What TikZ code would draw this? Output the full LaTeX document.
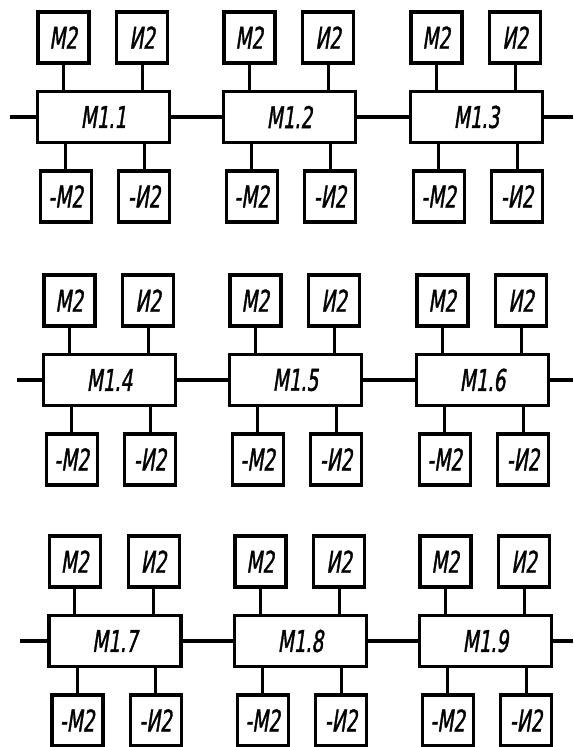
\documentclass[tikz,border=0pt]{standalone}
\usepackage{fontspec}
\setmainfont{DejaVu Sans}[FakeStretch=0.62,FakeSlant=0.15,FakeBold=1.2]
\usetikzlibrary{positioning}
\tikzset{
  modbox/.style={draw, line width=3.4pt, minimum width=132pt, minimum height=51pt, inner sep=0pt, font=\fontsize{30}{32}\selectfont},
  subbox/.style={draw, line width=3.4pt, minimum width=51pt, minimum height=51pt, inner sep=0pt, font=\fontsize{30}{32}\selectfont},
  wire/.style={line width=3.2pt}
}
\begin{document}
\begin{tikzpicture}[x=1pt,y=-1pt]
  \useasboundingbox (0,0) rectangle (573,747);

  % Modules with their four sub-blocks
  \foreach \n/\x/\y in {1/103.5/117, 2/289.5/117, 3/476.5/117,
                        4/109.5/380, 5/295.5/380, 6/482.5/380,
                        7/115/641, 8/300.5/641, 9/485.5/641} {
    \node[modbox] (m\n) at (\x,\y) {М1.\n};
    \node[subbox, above=25pt of m\n.north west, xshift=27.5pt] (tm\n) {М2};
    \node[subbox, above=25pt of m\n.north east, xshift=-29pt] (ti\n) {И2};
    \node[subbox, below=25pt of m\n.south west, xshift=30pt] (bm\n) {-М2};
    \node[subbox, below=25pt of m\n.south east, xshift=-27pt] (bi\n) {-И2};
    \draw[wire] (tm\n) -- (tm\n |- m\n.north);
    \draw[wire] (ti\n) -- (ti\n |- m\n.north);
    \draw[wire] (bm\n) -- (bm\n |- m\n.south);
    \draw[wire] (bi\n) -- (bi\n |- m\n.south);
  }

  % Row links
  \coordinate (l1) at (10,117);
  \coordinate (r1) at (573,117);
  \coordinate (l2) at (17,380);
  \coordinate (r2) at (573,380);
  \coordinate (l3) at (20,641);
  \coordinate (r3) at (573,641);
  \draw[wire] (l1) -- (m1) -- (m2) -- (m3) -- (r1);
  \draw[wire] (l2) -- (m4) -- (m5) -- (m6) -- (r2);
  \draw[wire] (l3) -- (m7) -- (m8) -- (m9) -- (r3);
\end{tikzpicture}
\end{document}
